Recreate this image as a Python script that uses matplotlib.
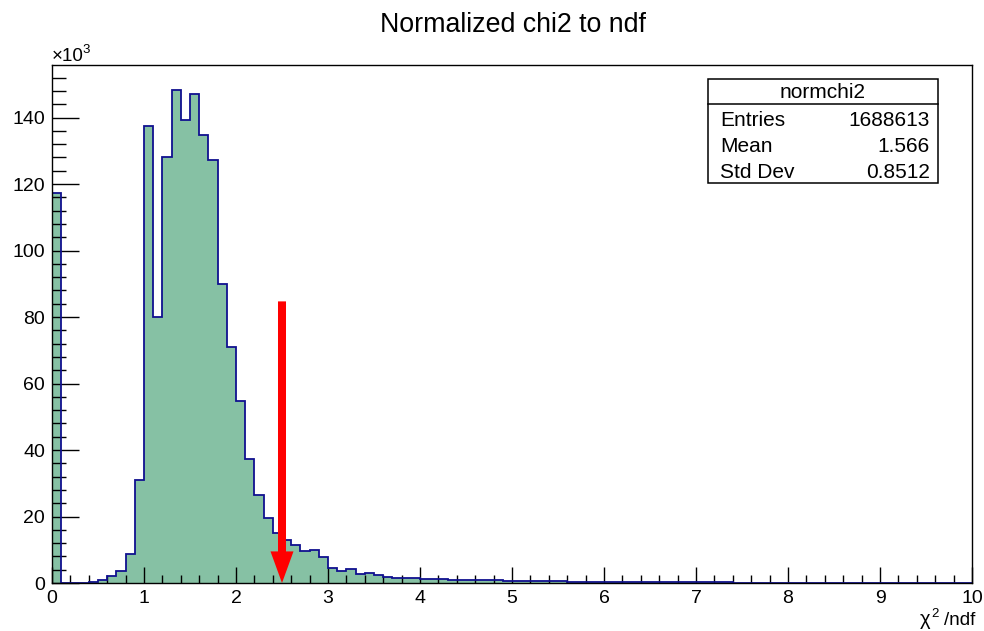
import numpy as np
import matplotlib
matplotlib.use("Agg")
import matplotlib.pyplot as plt
from matplotlib.patches import Rectangle
from matplotlib.lines import Line2D
from matplotlib.ticker import MultipleLocator

# histogram content, thousands of entries per bin (bin width 0.1, 0..10)
bin_edges = np.linspace(0, 10, 101)
counts = [
    117.2, 0.0, 0.0, 0.1, 0.4, 1.0, 2.0, 3.6, 8.8, 31.0,
    137.4, 80.0, 128.0, 148.4, 139.4, 147.0, 134.7, 127.1, 90.0, 71.0,
    54.6, 37.4, 26.4, 19.5, 14.9, 13.0, 11.3, 9.5, 9.8, 7.9,
    4.6, 3.5, 4.2, 2.6, 2.9, 2.4, 1.8, 1.6, 1.5, 1.4,
    1.25, 1.2, 1.1, 1.05, 1.0, 0.95, 0.9, 0.85, 0.8, 0.75,
    0.7, 0.65, 0.6, 0.56, 0.52, 0.48, 0.45, 0.42, 0.39, 0.36,
    0.34, 0.32, 0.3, 0.28, 0.26, 0.25, 0.23, 0.22, 0.21, 0.2,
    0.19, 0.18, 0.17, 0.16, 0.15, 0.15, 0.14, 0.13, 0.13, 0.12,
    0.12, 0.11, 0.11, 0.1, 0.1, 0.1, 0.09, 0.09, 0.09, 0.08,
    0.08, 0.08, 0.08, 0.07, 0.07, 0.07, 0.07, 0.06, 0.06, 0.06,
]
cut_value = 2.5
cut_top = 84.7

stats_name = "normchi2"
stats_labels = ["Entries", "Mean", "Std Dev"]
stats_values = ["1688613", "1.566", "0.8512"]

plt.rcParams['font.family'] = ['Liberation Sans', 'DejaVu Sans']

W, H = 984, 631
fig = plt.figure(figsize=(W / 100, H / 100), dpi=100)
ax = fig.add_axes([52 / W, 1 - 583 / H, 920 / W, 518 / H])

def fx(px):
    return px / W

def fy(py):
    return 1 - py / H

fill_c = '#86c1a4'
edge_c = '#10108f'
ax.stairs(counts, bin_edges, fill=True, facecolor=fill_c, edgecolor='none', zorder=1)
ax.stairs(counts, bin_edges, color=edge_c, lw=1.3, zorder=2)

# cut arrow
ax.arrow(cut_value, cut_top, 0, -cut_top, width=0.087, head_width=0.25,
         head_length=9.5, length_includes_head=True, color='red',
         lw=0, zorder=5, clip_on=False)

ax.set_xlim(0, 10)
ax.set_ylim(0, 155.8)
ax.xaxis.set_major_locator(MultipleLocator(1))
ax.xaxis.set_minor_locator(MultipleLocator(0.2))
ax.yaxis.set_major_locator(MultipleLocator(20))
ax.yaxis.set_minor_locator(MultipleLocator(4))
ax.tick_params(axis='both', which='both', direction='in', top=False, right=False,
               labelsize=14, width=1.0, color='black')
ax.tick_params(axis='y', which='major', length=19.5, pad=5)
ax.tick_params(axis='y', which='minor', length=10)
ax.tick_params(axis='x', which='major', length=11.5, pad=5)
ax.tick_params(axis='x', which='minor', length=5.8)
for s in ax.spines.values():
    s.set_linewidth(1.0)

# exponent label
fig.text(fx(52), fy(61), "×10", ha='left', va='baseline', fontsize=13.5)
fig.text(fx(82), fy(53), "3", ha='left', va='baseline', fontsize=9.5)

# x axis title
fig.text(fx(975), fy(625), "/ndf", ha='right', va='baseline', fontsize=13.5)
fig.text(fx(931), fy(617), "2", ha='left', va='baseline', fontsize=9.5)
fig.text(fx(920), fy(625), "χ", ha='left', va='baseline', fontsize=14.5)

fig.text(fx(513), fy(25), "Normalized chi2 to ndf", ha='center', va='center', fontsize=19.3)

# stats box
bx0, bx1, by0, by1, bsep = 708, 938, 79, 183, 104
fig.add_artist(Rectangle((fx(bx0), fy(by1)), (bx1 - bx0) / W, (by1 - by0) / H,
                         transform=fig.transFigure, facecolor='white',
                         edgecolor='black', lw=1.1, zorder=10))
fig.add_artist(Line2D([fx(bx0), fx(bx1)], [fy(bsep), fy(bsep)],
                      transform=fig.transFigure, color='black', lw=1.1, zorder=11))
fig.text(fx((bx0 + bx1) / 2), fy(92), stats_name, ha='center', va='center',
         fontsize=15, zorder=12)
for i, (lab, val) in enumerate(zip(stats_labels, stats_values)):
    yy = fy(120 + 26 * i)
    fig.text(fx(720), yy, lab, ha='left', va='center', fontsize=15, zorder=12)
    fig.text(fx(930), yy, val, ha='right', va='center', fontsize=15, zorder=12)

fig.savefig("out.png", dpi=100)
